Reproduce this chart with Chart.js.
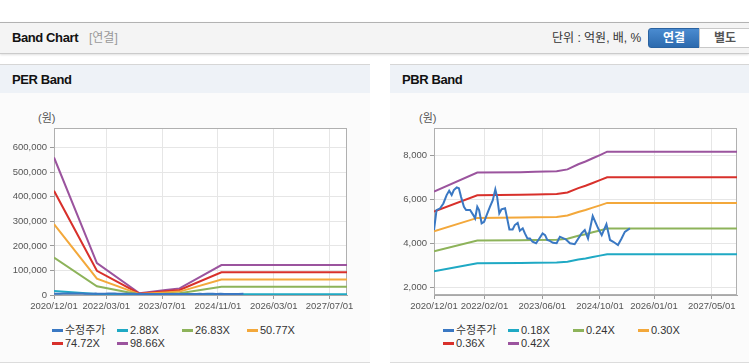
<!DOCTYPE html>
<html>
<head>
<meta charset="utf-8">
<script src="https://cdn.jsdelivr.net/npm/chart.js@4.4.1/dist/chart.umd.min.js"></script>
<style>
  body { margin: 0; width: 749px; height: 364px; position: relative; overflow: hidden; background: #fff;
         font-family: 'Liberation Sans', Arial, 'Noto Sans CJK KR', sans-serif; color: #222; }
  .hdr { position: absolute; left: 0; top: 22px; width: 749px; height: 30px; background: #f4f4f4;
         border-top: 1px solid #b2b2b2; border-bottom: 1px solid #cbcbcb; box-shadow: 0 1px 2px rgba(0,0,0,.12); }
  .hdr .ttl { position: absolute; left: 12px; top: 7px; font-size: 13px; font-weight: bold; letter-spacing: -0.4px; line-height: 16px; color: #111; }
  .hdr .sub { position: absolute; left: 89px; top: 7px; font-size: 12px; color: #999; line-height: 16px; }
  .hdr .unit { position: absolute; left: 552px; top: 7px; font-size: 12px; color: #333; line-height: 16px; }
  .btn { position: absolute; top: 5px; height: 18px; width: 50px; font-size: 12px; font-weight: bold; line-height: 18px; text-align: center; }
  .btn.on { left: 648px; color: #fff; background: linear-gradient(#4a8bd0, #2c6aae); border: 1px solid #2a62a0; border-radius: 3px 0 0 3px; height: 18px; }
  .btn.off { left: 699px; color: #555; background: #fff; border: 1px solid #c8c8c8; }
  .panel { position: absolute; top: 64px; height: 297px; background: #fbfbfb; border-top: 1px solid #d6d6d6; border-bottom: 1px solid #dcdcdc; }
  .panel .ptl { height: 28px; background: #eef2f7; font-size: 13px; font-weight: bold; padding-left: 12px; line-height: 30px; letter-spacing: -0.4px; color: #111; }
  canvas { position: absolute; top: 93px; }
  .unitY { position: absolute; top: 111px; font-size: 11px; color: #555; line-height: 14px; }
  .legend { position: absolute; top: 324px; width: 300px; font-size: 11px; color: #333; line-height: 13px; }
  .legend span.item { display: inline-block; width: 65px; white-space: nowrap; }
  .legend i { display: inline-block; width: 11px; height: 3px; vertical-align: middle; margin-right: 2px; margin-top: -2px; }
</style>
</head>
<body>
<div class="hdr">
  <div class="ttl">Band Chart</div>
  <div class="sub">[연결]</div>
  <div class="unit">단위 : 억원, 배, %</div>
  <div class="btn on">연결</div>
  <div class="btn off">별도</div>
</div>
<div class="panel" style="left:0;width:370px"><div class="ptl">PER Band</div></div>
<div class="panel" style="left:390px;width:359px"><div class="ptl">PBR Band</div></div>
<div class="unitY" style="left:38px">(원)</div>
<div class="unitY" style="left:419px">(원)</div>
<canvas id="perChart" width="370" height="225" style="left:0"></canvas>
<canvas id="pbrChart" width="359" height="225" style="left:390px"></canvas>
<div id="perLegend" class="legend" style="left:52px"></div>
<div id="pbrLegend" class="legend" style="left:443px"></div>
<script>
// x values are months counted from 2020/12/01
const priceMonths = [0, 0.7, 1.7, 2.6, 3.5, 4.2, 4.9, 5.5, 6.3, 6.9, 7.5, 8.3, 8.9, 10, 10.9, 11.4, 12, 12.5, 13.2, 13.9,
  14.6, 15.5, 16.3, 17, 17.5, 18.1, 18.7, 19.7, 20.1, 20.9, 21.8, 22.4, 23.2, 23.8, 24.6, 25.2, 25.9, 26.6, 27.3, 28.3,
  29.2, 30.1, 30.8, 31.4, 32.1, 33, 34, 34.9, 36.5, 37.7, 39, 40.9, 41.8, 42.7, 44, 45.5, 46.5, 47.8, 48.8, 49.7,
  51, 52, 52.9, 54.3];
const priceValues = [4590, 5500, 5580, 5800, 6180, 6380, 6180, 6410, 6530, 6490, 6100, 5650, 5500, 5500, 5270, 5120, 5650, 5500, 4900, 4970,
  5270, 5650, 5950, 6440, 6100, 5350, 5530, 5580, 5270, 4620, 4620, 4820, 4920, 4560, 4670, 4440, 4210, 4210, 4060, 3990,
  4210, 4440, 4360, 4140, 4100, 4010, 3990, 4290, 4170, 3990, 3950, 4440, 4590, 4210, 5230, 4670, 4360, 4860, 4140, 4060,
  3910, 4210, 4510, 4670];

// PER band
const perLabels = ['수정주가', '2.88X', '26.83X', '50.77X', '74.72X', '98.66X'];
const perMonths = [0, 12.3, 24.5, 28, 32, 36, 48, 84];
const per288 = [16300, 3800, 200, 380, 580, 790, 3560, 3560];
const per2683 = [152300, 35400, 1900, 3500, 5400, 7300, 33200, 33200];
const per5077 = [288200, 66900, 3600, 6700, 10300, 13900, 62800, 62800];
const per7472 = [424100, 98500, 5300, 9800, 15100, 20400, 92400, 92400];
const per9866 = [560000, 130000, 7000, 13000, 20000, 27000, 122000, 122000];
const perTickMonths = [0, 15, 31, 47, 63, 79];
const perTickLabels = ['2020/12/01', '2022/03/01', '2023/07/01', '2024/11/01', '2026/03/01', '2027/07/01'];
const perYTicks = [0, 100000, 200000, 300000, 400000, 500000, 600000];

// PBR band
const pbrLabels = ['수정주가', '0.18X', '0.24X', '0.30X', '0.36X', '0.42X'];
const pbrMonths = [0, 12, 24, 28, 34, 37, 40, 42, 44, 46, 48, 84];
const pbr018 = [2718, 3087, 3096, 3105, 3114, 3150, 3249, 3303, 3366, 3429, 3496, 3496];
const pbr024 = [3624, 4116, 4128, 4140, 4152, 4200, 4332, 4404, 4488, 4572, 4661, 4661];
const pbr030 = [4530, 5145, 5160, 5175, 5190, 5250, 5415, 5505, 5610, 5715, 5826, 5826];
const pbr036 = [5436, 6174, 6192, 6210, 6228, 6300, 6498, 6606, 6732, 6858, 6991, 6991];
const pbr042 = [6342, 7203, 7224, 7245, 7266, 7350, 7581, 7707, 7854, 8001, 8156, 8156];
const pbrTickMonths = [0, 14, 30, 46, 61, 77];
const pbrTickLabels = ['2020/12/01', '2022/02/01', '2023/06/01', '2024/10/01', '2026/01/01', '2027/05/01'];
const pbrYTicks = [2000, 4000, 6000, 8000];

const colors = ['#3a78c3', '#1fa9c4', '#8db35a', '#f3a83b', '#d8302b', '#9b549e'];

Chart.defaults.font.family = "'Liberation Sans', Arial, 'Noto Sans CJK KR', sans-serif";

// white plot area + grey box around it
const frame = {
  id: 'frame',
  beforeDraw(chart) {
    const { ctx, chartArea: a } = chart;
    ctx.save();
    ctx.fillStyle = '#fff';
    ctx.fillRect(a.left, a.top, a.width, a.height);
    ctx.restore();
  },
  beforeDatasetsDraw(chart) {
    const { ctx, chartArea: a } = chart;
    ctx.save();
    ctx.strokeStyle = '#b0b0b0';
    ctx.lineWidth = 1;
    ctx.strokeRect(a.left + 0.5, a.top + 0.5, a.width - 1, a.height - 1);
    ctx.restore();
  }
};

function pts(xs, ys) {
  return xs.map((m, i) => ({ x: m, y: ys[i] }));
}

function bandChart(id, o) {
  const datasets = o.series.map((d, i) => ({
    label: o.labels[i],
    data: d,
    borderColor: colors[i],
    backgroundColor: colors[i],
    borderWidth: 2,
    pointRadius: 0,
    tension: 0,
    fill: false
  }));
  return new Chart(document.getElementById(id), {
    type: 'line',
    data: { datasets },
    options: {
      responsive: false,
      animation: false,
      layout: { padding: { top: 35, right: o.padRight, left: 0, bottom: 0 } },
      plugins: { legend: { display: false }, tooltip: { enabled: false } },
      scales: {
        x: {
          type: 'linear', min: 0, max: 84,
          afterBuildTicks: s => { s.ticks = o.xTicks.map(v => ({ value: v })); },
          afterFit: s => { s.height = 23; },
          ticks: { autoSkip: false, maxRotation: 0, padding: 2, color: '#555', font: { size: 9.5 },
                   callback: v => o.xLabels[o.xTicks.indexOf(v)] },
          grid: { color: '#e6e6e6', tickColor: '#9a9a9a', tickLength: 4 },
          border: { color: '#a8a8a8' }
        },
        y: {
          min: o.yMin, max: o.yMax,
          afterBuildTicks: s => { s.ticks = o.yTicks.map(v => ({ value: v })); },
          afterFit: s => { s.width = o.yWidth; },
          ticks: { padding: 3, color: '#555', font: { size: 9.5 },
                   callback: v => v.toLocaleString('en-US') },
          grid: { color: '#e6e6e6', tickColor: '#9a9a9a', tickLength: 4 },
          border: { color: '#a8a8a8' }
        }
      }
    },
    plugins: [frame]
  });
}

function htmlLegend(chart, elId) {
  const el = document.getElementById(elId);
  chart.data.datasets.forEach(ds => {
    const item = document.createElement('span');
    item.className = 'item';
    const sw = document.createElement('i');
    sw.style.background = ds.borderColor;
    item.appendChild(sw);
    item.appendChild(document.createTextNode(ds.label));
    el.appendChild(item);
  });
}

const perChart = bandChart('perChart', {
  labels: perLabels,
  series: [pts(priceMonths, priceValues), pts(perMonths, per288), pts(perMonths, per2683),
           pts(perMonths, per5077), pts(perMonths, per7472), pts(perMonths, per9866)],
  xTicks: perTickMonths, xLabels: perTickLabels,
  yMin: 0, yMax: 680000, yTicks: perYTicks, yWidth: 54, padRight: 23
});

const pbrChart = bandChart('pbrChart', {
  labels: pbrLabels,
  series: [pts(priceMonths, priceValues), pts(pbrMonths, pbr018), pts(pbrMonths, pbr024),
           pts(pbrMonths, pbr030), pts(pbrMonths, pbr036), pts(pbrMonths, pbr042)],
  xTicks: pbrTickMonths, xLabels: pbrTickLabels,
  yMin: 1640, yMax: 9230, yTicks: pbrYTicks, yWidth: 44, padRight: 12
});

htmlLegend(perChart, 'perLegend');
htmlLegend(pbrChart, 'pbrLegend');
</script>
</body>
</html>
